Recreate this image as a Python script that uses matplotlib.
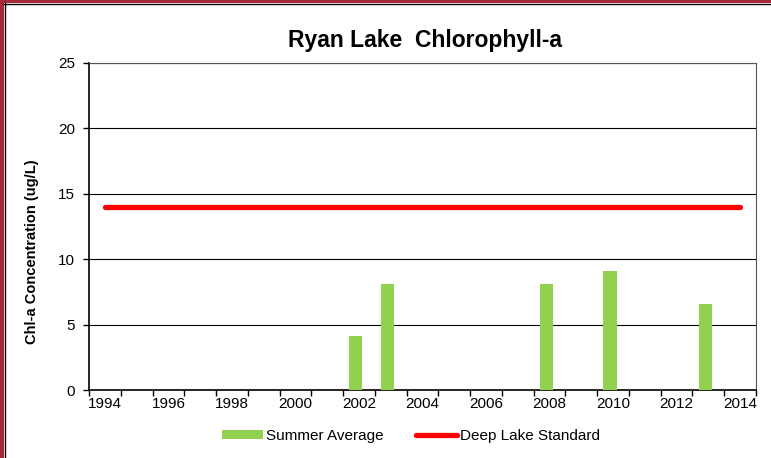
import matplotlib
matplotlib.use("Agg")
import matplotlib.pyplot as plt
from matplotlib.patches import Rectangle, Patch
from matplotlib.lines import Line2D
import numpy as np

plt.rcParams['font.family'] = ['Liberation Sans', 'DejaVu Sans']

years = list(range(1994, 2015))
bar_years = [2002, 2003, 2008, 2010, 2013]
bar_values = [4.1, 8.1, 8.1, 9.1, 6.6]
standard_value = 14
standard_years = [1994, 2014]
label_years = list(range(1994, 2015, 2))

W, H = 771, 458
fig = plt.figure(figsize=(W / 100, H / 100), dpi=100)

# border (top and left only; the rest is cropped in the reference)
red = '#A3283A'
fig.add_artist(Rectangle((0, 1 - 3/H), 1, 3/H, transform=fig.transFigure,
                         facecolor=red, edgecolor='none'))
fig.add_artist(Rectangle((0, 0), 4/W, 1, transform=fig.transFigure,
                         facecolor=red, edgecolor='none'))
fig.add_artist(Line2D([4.5/W, 4.5/W], [0, 1 - 3/H], color='black', lw=1.0, transform=fig.transFigure))
fig.add_artist(Line2D([4/W, 1], [1 - 3.5/H, 1 - 3.5/H], color='black', lw=1.0, transform=fig.transFigure))

left, right, top, bottom = 89, 756, 63, 390
ax = fig.add_axes([left / W, 1 - bottom / H, (right - left) / W, (bottom - top) / H])

idx = {y: i for i, y in enumerate(years)}
bx = [idx[y] - 0.1 for y in bar_years]
ax.bar(bx, bar_values, width=0.42, color='#92D050', zorder=3)
ax.plot([idx[y] for y in standard_years], [standard_value] * 2, color='#FF0000',
        lw=3.8, solid_capstyle='round', zorder=4)

ax.set_xlim(-0.5, len(years) - 0.5)
ax.set_ylim(0, 25)
ax.set_yticks(np.arange(0, 26, 5))
ax.grid(axis='y', color='black', lw=0.8, zorder=1)
ax.set_axisbelow(True)

ax.set_xticks(np.arange(-0.5, len(years)), labels=[])
ax.set_xticks([idx[y] for y in label_years], labels=[str(y) for y in label_years], minor=True)
ax.tick_params(axis='x', which='major', length=4, width=1, direction='out', color='black')
ax.tick_params(axis='x', which='minor', length=0, labelsize=11, pad=5)
ax.tick_params(axis='y', length=4, width=1, direction='out', labelsize=11, pad=6)

for s in ['left', 'bottom']:
    ax.spines[s].set_color('black')
    ax.spines[s].set_linewidth(1.2)
for s in ['top', 'right']:
    ax.spines[s].set_color('#555555')
    ax.spines[s].set_linewidth(0.8)

fig.text(425 / W, 1 - 40 / H, 'Ryan Lake  Chlorophyll-a', ha='center', va='center',
         fontsize=16.5, fontweight='bold')
fig.text(32 / W, 1 - 252 / H, 'Chl-a Concentration (ug/L)', ha='center', va='center',
         rotation=90, fontsize=10.5, fontweight='bold')

handles = [Patch(facecolor='#92D050', edgecolor='none'),
           Line2D([], [], color='#FF0000', lw=3.8, solid_capstyle='round')]
fig.legend(handles, ['Summer Average', 'Deep Lake Standard'], loc='center',
           bbox_to_anchor=(411 / W, 1 - 436 / H), ncol=2, frameon=False, fontsize=11,
           handlelength=2.7, handleheight=0.6, handletextpad=0.15, columnspacing=2.15)

fig.savefig('out.png', dpi=100)
